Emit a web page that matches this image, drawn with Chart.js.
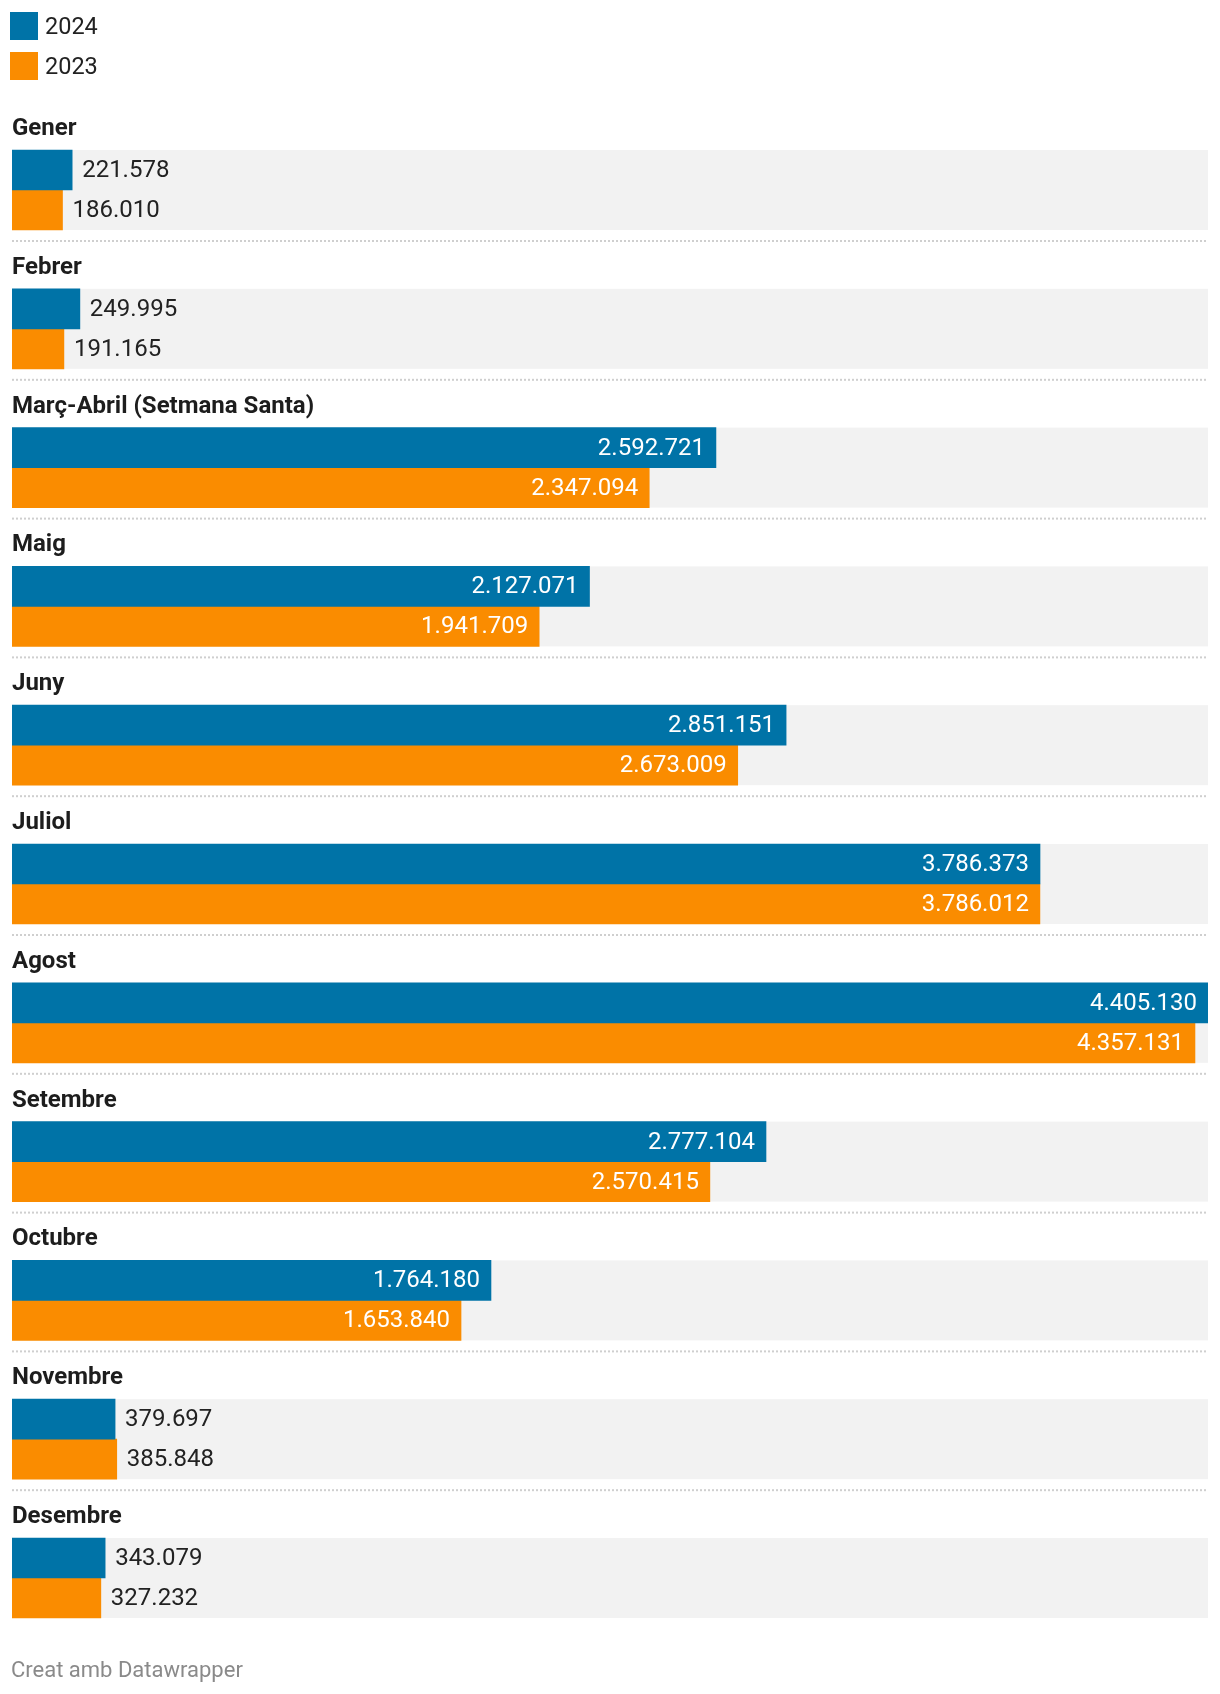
<!DOCTYPE html>
<html>
<head>
<meta charset="utf-8">
<script src="https://cdn.jsdelivr.net/npm/chart.js@4/dist/chart.umd.min.js"></script>
<style>
  html, body { margin:0; padding:0; background:#fff; }
  body { width:1220px; height:1694px; position:relative; font-family: Roboto, "Noto Sans", sans-serif; color:#222; }
  #wrap { position:absolute; left:0; top:0; width:1220px; height:1694px; }
  .leg { position:absolute; left:10px; height:28px; display:flex; align-items:center; font-size:23.5px; color:#222; }
  .leg span.sw { display:inline-block; width:28px; height:28px; margin-right:7px; }
  #footer { position:absolute; left:11px; top:1657px; font-size:22px; color:#8a8a8a; }
</style>
</head>
<body>
<div id="wrap"><canvas id="c"></canvas></div>
<div class="leg" style="top:12px"><span class="sw" style="background:#0073a7"></span>2024</div>
<div class="leg" style="top:52px"><span class="sw" style="background:#fa8c00"></span>2023</div>
<div id="footer">Creat amb Datawrapper</div>
<script>
const categories = ["Gener","Febrer","Març-Abril (Setmana Santa)","Maig","Juny","Juliol","Agost","Setembre","Octubre","Novembre","Desembre"];
const seriesNames = ["2024","2023"];
const values2024 = [221578,249995,2592721,2127071,2851151,3786373,4405130,2777104,1764180,379697,343079];
const values2023 = [186010,191165,2347094,1941709,2673009,3786012,4357131,2570415,1653840,385848,327232];

const BLUE = "#0073a7", ORANGE = "#fa8c00";
const fmt = v => String(v).replace(/\B(?=(\d{3})+(?!\d))/g, ".");

const bgPlugin = {
  id: "rowBg",
  beforeDatasetsDraw(chart) {
    const {ctx, chartArea, scales} = chart;
    const y = scales.y;
    ctx.save();
    const n = categories.length;
    for (let i = 0; i < n; i++) {
      const c = y.getPixelForValue(i);
      ctx.fillStyle = "#f2f2f2";
      ctx.fillRect(chartArea.left, c - 40, chartArea.right - chartArea.left, 80);
      if (i < n - 1) {
        ctx.strokeStyle = "#cfcfcf";
        ctx.lineWidth = 2;
        ctx.setLineDash([2, 2]);
        ctx.beginPath();
        ctx.moveTo(chartArea.left, c + 51);
        ctx.lineTo(chartArea.right, c + 51);
        ctx.stroke();
      }
    }
    ctx.restore();
  }
};

const valuePlugin = {
  id: "values",
  afterDatasetsDraw(chart) {
    const ctx = chart.ctx;
    ctx.save();
    ctx.font = "24px Roboto";
    ctx.textBaseline = "middle";
    chart.data.datasets.forEach((ds, di) => {
      const meta = chart.getDatasetMeta(di);
      meta.data.forEach((bar, i) => {
        const txt = fmt(ds.data[i]);
        const w = ctx.measureText(txt).width;
        const barW = bar.x - bar.base;
        if (barW > w + 22) {
          ctx.fillStyle = "#ffffff";
          ctx.textAlign = "right";
          ctx.fillText(txt, bar.x - 11, bar.y + 1);
        } else {
          ctx.fillStyle = "#222222";
          ctx.textAlign = "left";
          ctx.fillText(txt, bar.x + 10, bar.y + 1);
        }
      });
    });
    ctx.restore();
  }
};

new Chart(document.getElementById("c"), {
  type: "bar",
  data: {
    labels: categories,
    datasets: [
      { label: seriesNames[0], data: values2024, backgroundColor: BLUE, barThickness: 40 },
      { label: seriesNames[1], data: values2023, backgroundColor: ORANGE, barThickness: 40 }
    ]
  },
  options: {
    indexAxis: "y",
    responsive: true,
    maintainAspectRatio: false,
    animation: false,
    layout: { padding: { left: 12, right: 12, top: 120.6, bottom: 46.6 } },
    plugins: { legend: { display: false }, tooltip: { enabled: false } },
    scales: {
      x: { display: false, min: 0, max: Math.max(...values2024, ...values2023) },
      y: {
        grid: { display: false, drawTicks: false },
        border: { display: false },
        ticks: {
          mirror: true, padding: 0, labelOffset: -61,
          color: "#1d1d1d", font: { family: "Roboto", size: 24, weight: "bold" }
        }
      }
    }
  },
  plugins: [bgPlugin, valuePlugin]
});
</script>
</body>
</html>
